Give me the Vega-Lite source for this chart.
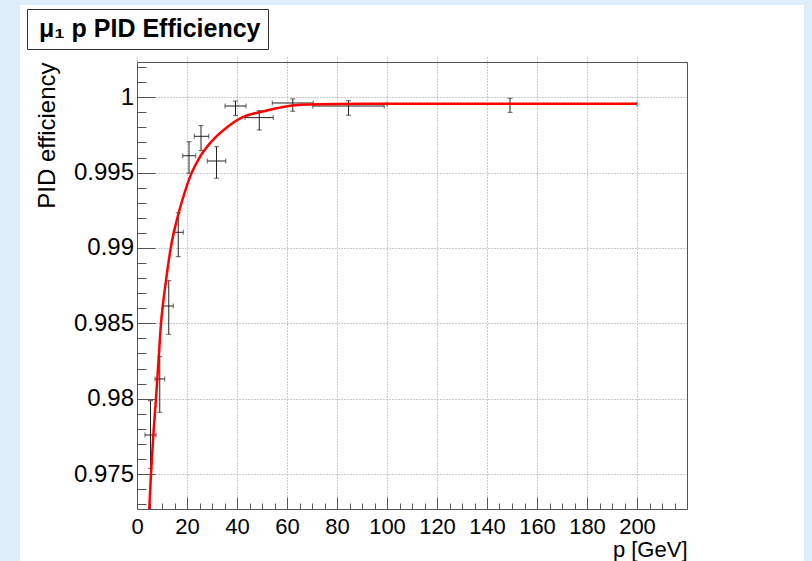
{
  "$schema": "https://vega.github.io/schema/vega-lite/v6.json",
  "width": 784,
  "height": 556,
  "autosize": {"type": "none"},
  "padding": {"left": 20, "top": 5, "right": 8, "bottom": 0},
  "background": "#ddeefa",
  "config": {
    "view": {"fill": "white", "stroke": null},
    "font": "Liberation Sans",
    "axis": {"labelFont": "Liberation Sans", "titleFont": "Liberation Sans", "labelColor": "black", "titleColor": "black", "titleFontWeight": "normal", "domainColor": "#555", "tickColor": "#555", "labelFlush": false, "labelOverlap": false}
  },
  "datasets": {
    "points": [
      {"p": 5.4, "pLo": 3.2, "pHi": 7.6, "eff": 0.97759, "effLo": 0.97538, "effHi": 0.97987},
      {"p": 9.1, "pLo": 7.2, "pHi": 11.1, "eff": 0.98131, "effLo": 0.97910, "effHi": 0.98279},
      {"p": 12.7, "pLo": 10.5, "pHi": 14.5, "eff": 0.98615, "effLo": 0.98427, "effHi": 0.98783},
      {"p": 16.5, "pLo": 14.5, "pHi": 18.5, "eff": 0.99104, "effLo": 0.98942, "effHi": 0.99234},
      {"p": 20.8, "pLo": 18.3, "pHi": 23.5, "eff": 0.99612, "effLo": 0.99496, "effHi": 0.99705},
      {"p": 25.6, "pLo": 22.9, "pHi": 28.7, "eff": 0.99741, "effLo": 0.99646, "effHi": 0.99812},
      {"p": 31.8, "pLo": 28.1, "pHi": 35.5, "eff": 0.99577, "effLo": 0.99463, "effHi": 0.99672},
      {"p": 39.4, "pLo": 35.2, "pHi": 43.6, "eff": 0.99942, "effLo": 0.99878, "effHi": 0.99975},
      {"p": 48.9, "pLo": 43.2, "pHi": 54.5, "eff": 0.99865, "effLo": 0.99783, "effHi": 0.99911},
      {"p": 62.3, "pLo": 54.1, "pHi": 70.5, "eff": 0.99962, "effLo": 0.99907, "effHi": 0.99989},
      {"p": 84.6, "pLo": 70.3, "pHi": 98.9, "eff": 0.99942, "effLo": 0.99881, "effHi": 0.99977},
      {"p": 149.2, "pLo": 100, "pHi": 200, "eff": 0.99956, "effLo": 0.99900, "effHi": 0.99993}
    ],
    "fit": [
      {"p": 4.9, "eff": 0.97268},
      {"p": 5.6, "eff": 0.975},
      {"p": 6.5, "eff": 0.9775},
      {"p": 7.6, "eff": 0.98},
      {"p": 8.6, "eff": 0.9825},
      {"p": 9.6, "eff": 0.985},
      {"p": 11.5, "eff": 0.9877},
      {"p": 13.5, "eff": 0.99},
      {"p": 16, "eff": 0.9919},
      {"p": 18, "eff": 0.9931},
      {"p": 21.9, "eff": 0.995},
      {"p": 25, "eff": 0.996},
      {"p": 30, "eff": 0.9971},
      {"p": 35.9, "eff": 0.998},
      {"p": 43.2, "eff": 0.99875},
      {"p": 48.9, "eff": 0.999},
      {"p": 54.5, "eff": 0.99922},
      {"p": 58.4, "eff": 0.99936},
      {"p": 66, "eff": 0.9995},
      {"p": 80, "eff": 0.99956},
      {"p": 100, "eff": 0.99957},
      {"p": 200, "eff": 0.99957}
    ]
  },
  "resolve": {"axis": {"x": "independent", "y": "independent"}},
  "layer": [
    {
      "data": {"name": "points"},
      "mark": {"type": "rule", "color": "#222", "strokeWidth": 1},
      "encoding": {
        "x": {"field": "pLo", "type": "quantitative",
          "scale": {"domain": [0, 220], "range": [117, 667], "nice": false, "zero": false},
          "axis": {"orient": "bottom", "offset": -52, "values": [0, 20, 40, 60, 80, 100, 120, 140, 160, 180, 200], "format": ".6~g", "tickSize": -12, "labelPadding": 19.5, "labelFontSize": 22, "grid": true, "gridColor": "#999", "gridDash": [1, 2], "domain": true, "title": "p [GeV]", "titleFontSize": 22, "titleAnchor": "end", "titlePadding": 2}},
        "x2": {"field": "pHi"},
        "y": {"field": "eff", "type": "quantitative",
          "scale": {"domain": [0.97268, 1.00234], "range": [504, 57], "nice": false, "zero": false},
          "axis": {"orient": "left", "offset": -117, "values": [0.975, 0.98, 0.985, 0.99, 0.995, 1], "format": ".6~g", "tickSize": -18, "labelPadding": 21.5, "labelFontSize": 24, "grid": true, "gridColor": "#999", "gridDash": [1, 2], "domain": true, "title": "PID efficiency", "titleFontSize": 24, "titleAnchor": "end", "titlePadding": 14}}
      }
    },
    {
      "data": {"name": "points"},
      "mark": {"type": "rule", "color": "#222", "strokeWidth": 1},
      "encoding": {
        "x": {"field": "p", "type": "quantitative",
          "scale": {"domain": [0, 220], "range": [117, 667], "nice": false, "zero": false},
          "axis": {"orient": "bottom", "offset": -52, "values": [5, 10, 15, 25, 30, 35, 45, 50, 55, 65, 70, 75, 85, 90, 95, 105, 110, 115, 125, 130, 135, 145, 150, 155, 165, 170, 175, 185, 190, 195, 205, 210, 215], "tickSize": -6, "labels": false, "grid": false, "domain": false, "title": null}},
        "y": {"field": "effLo", "type": "quantitative",
          "scale": {"domain": [0.97268, 1.00234], "range": [504, 57], "nice": false, "zero": false},
          "axis": {"orient": "left", "offset": -117, "values": [0.973, 0.974, 0.976, 0.977, 0.978, 0.979, 0.981, 0.982, 0.983, 0.984, 0.986, 0.987, 0.988, 0.989, 0.991, 0.992, 0.993, 0.994, 0.996, 0.997, 0.998, 0.999, 1.001, 1.002], "tickSize": -9, "labels": false, "grid": false, "domain": false, "title": null}},
        "y2": {"field": "effHi"}
      }
    },
    {
      "data": {"name": "points"},
      "mark": {"type": "tick", "orient": "vertical", "color": "#222", "size": 5, "thickness": 1},
      "encoding": {
        "x": {"field": "pLo", "type": "quantitative",
          "scale": {"domain": [0, 220], "range": [117, 667], "nice": false, "zero": false},
          "axis": {"orient": "top", "offset": -57, "ticks": false, "labels": false, "grid": false, "domain": true, "title": null}},
        "y": {"field": "eff", "type": "quantitative",
          "scale": {"domain": [0.97268, 1.00234], "range": [504, 57], "nice": false, "zero": false},
          "axis": {"orient": "right", "offset": -117, "ticks": false, "labels": false, "grid": false, "domain": true, "title": null}}
      }
    },
    {
      "data": {"name": "points"},
      "mark": {"type": "tick", "orient": "vertical", "color": "#222", "size": 5, "thickness": 1},
      "encoding": {
        "x": {"field": "pHi", "type": "quantitative", "scale": {"domain": [0, 220], "range": [117, 667], "nice": false, "zero": false}, "axis": null},
        "y": {"field": "eff", "type": "quantitative", "scale": {"domain": [0.97268, 1.00234], "range": [504, 57], "nice": false, "zero": false}, "axis": null}
      }
    },
    {
      "data": {"name": "points"},
      "mark": {"type": "tick", "orient": "horizontal", "color": "#222", "size": 5, "thickness": 1},
      "encoding": {
        "x": {"field": "p", "type": "quantitative", "scale": {"domain": [0, 220], "range": [117, 667], "nice": false, "zero": false}, "axis": null},
        "y": {"field": "effLo", "type": "quantitative", "scale": {"domain": [0.97268, 1.00234], "range": [504, 57], "nice": false, "zero": false}, "axis": null}
      }
    },
    {
      "data": {"name": "points"},
      "mark": {"type": "tick", "orient": "horizontal", "color": "#222", "size": 5, "thickness": 1},
      "encoding": {
        "x": {"field": "p", "type": "quantitative", "scale": {"domain": [0, 220], "range": [117, 667], "nice": false, "zero": false}, "axis": null},
        "y": {"field": "effHi", "type": "quantitative", "scale": {"domain": [0.97268, 1.00234], "range": [504, 57], "nice": false, "zero": false}, "axis": null}
      }
    },
    {
      "data": {"name": "fit"},
      "mark": {"type": "line", "strokeWidth": 2.5, "interpolate": "monotone"},
      "encoding": {
        "x": {"field": "p", "type": "quantitative", "scale": {"domain": [0, 220], "range": [117, 667], "nice": false, "zero": false}, "axis": null},
        "y": {"field": "eff", "type": "quantitative", "scale": {"domain": [0.97268, 1.00234], "range": [504, 57], "nice": false, "zero": false}, "axis": null},
        "color": {"datum": "μ₁ p PID Efficiency", "type": "nominal",
          "scale": {"range": ["#ff0000"]},
          "legend": {"orient": "none", "legendX": 7, "legendY": 4, "title": null, "labelFont": "Liberation Sans", "labelFontSize": 25, "labelFontWeight": "bold", "labelColor": "black", "labelLimit": 500, "labelOffset": -20, "symbolSize": 0, "symbolOpacity": 0, "symbolStrokeWidth": 0, "padding": 7, "strokeColor": "#333", "fillColor": "white", "cornerRadius": 0}}
      }
    }
  ]
}
